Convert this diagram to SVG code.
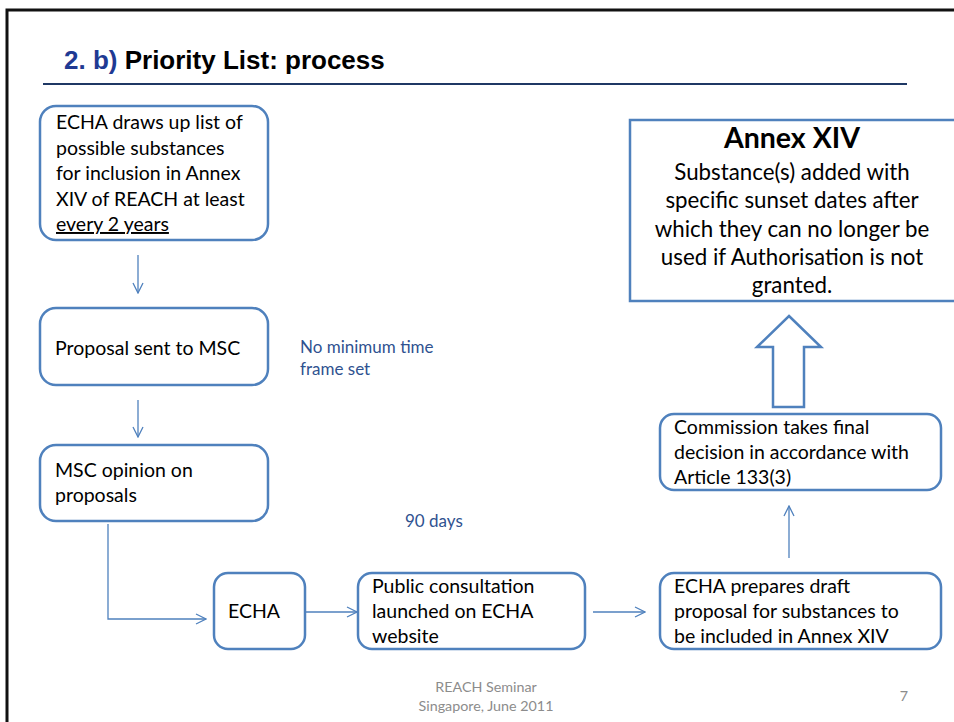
<svg xmlns="http://www.w3.org/2000/svg" width="954" height="722" viewBox="0 0 954 722">
<defs>
<style>
.box{fill:#fff;stroke:#4F81BD;stroke-width:2.5}
.t{font-family:Lato,"Open Sans",sans-serif;font-size:19.5px;fill:#000}
.lbl{font-family:Lato,"Open Sans",sans-serif;font-size:17px;fill:#2F5290}
.foot{font-family:Lato,"Open Sans",sans-serif;font-size:14.3px;fill:#8C8C8C}
.con{fill:none;stroke:#4F81BD;stroke-width:1.3}
</style>
<marker id="arr" viewBox="0 0 12 12" refX="11" refY="6" markerWidth="12" markerHeight="12" markerUnits="userSpaceOnUse" orient="auto">
<path d="M1,1 L11,6 L1,11" fill="none" stroke="#4F81BD" stroke-width="1.3"/>
</marker>
</defs>
<rect width="954" height="722" fill="#fff"/>
<path d="M7,722 V10 H954" fill="none" stroke="#111" stroke-width="3"/>
<g id="title">
<text x="64" y="69" font-family="'Liberation Sans',Arial,sans-serif" font-weight="bold" font-size="26px"><tspan fill="#1F3A93">2. b)</tspan><tspan fill="#000"> Priority List: process</tspan></text>
<line x1="43" y1="84" x2="907" y2="84" stroke="#1F3864" stroke-width="2"/>
</g>
<g id="n1">
<rect class="box" x="40" y="106" width="228" height="134" rx="16"/>
<text class="t"><tspan x="56" y="129">ECHA draws up list of</tspan><tspan x="56" y="155">possible substances</tspan><tspan x="56" y="180">for inclusion in Annex</tspan><tspan x="56" y="206">XIV of REACH at least</tspan><tspan x="56" y="231" text-decoration="underline">every 2 years</tspan></text>
</g>
<g id="n2">
<rect class="box" x="40" y="308" width="228" height="77" rx="16"/>
<text class="t" x="55" y="355">Proposal sent to MSC</text>
</g>
<g id="n3">
<rect class="box" x="40" y="445" width="228" height="76" rx="16"/>
<text class="t"><tspan x="55" y="477">MSC opinion on</tspan><tspan x="55" y="502">proposals</tspan></text>
</g>
<g id="n4">
<rect class="box" x="214" y="573" width="91" height="76" rx="14"/>
<text class="t" x="228" y="618">ECHA</text>
</g>
<g id="n5">
<rect class="box" x="358" y="573" width="227" height="76" rx="14"/>
<text class="t"><tspan x="372" y="593">Public consultation</tspan><tspan x="372" y="618">launched on ECHA</tspan><tspan x="372" y="643">website</tspan></text>
</g>
<g id="n6">
<rect class="box" x="660" y="573" width="281" height="76" rx="14"/>
<text class="t"><tspan x="674" y="593">ECHA prepares draft</tspan><tspan x="674" y="618">proposal for substances to</tspan><tspan x="674" y="643">be included in Annex XIV</tspan></text>
</g>
<g id="n7">
<rect class="box" x="660" y="414" width="281" height="76" rx="14"/>
<text class="t"><tspan x="674" y="434">Commission takes final</tspan><tspan x="674" y="459">decision in accordance with</tspan><tspan x="674" y="484">Article 133(3)</tspan></text>
</g>
<g id="n8">
<rect x="630" y="120" width="340" height="181" fill="#fff" stroke="#4F81BD" stroke-width="2.5"/>
<text x="792" y="148" text-anchor="middle" font-family="Lato,'Open Sans',sans-serif" font-weight="bold" font-size="28.5px">Annex XIV</text>
<text class="t" text-anchor="middle" style="font-size:22.3px"><tspan x="792" y="180">Substance(s) added with</tspan><tspan x="792" y="208">specific sunset dates after</tspan><tspan x="792" y="237">which they can no longer be</tspan><tspan x="792" y="265">used if Authorisation is not</tspan><tspan x="792" y="293">granted.</tspan></text>
</g>
<g id="connectors">
<line class="con" x1="138" y1="255" x2="138" y2="293" marker-end="url(#arr)"/>
<line class="con" x1="138" y1="400" x2="138" y2="437" marker-end="url(#arr)"/>
<polyline class="con" points="108,524 108,619 206,619" marker-end="url(#arr)"/>
<line class="con" x1="306" y1="612" x2="357" y2="612" marker-end="url(#arr)"/>
<line class="con" x1="593" y1="612" x2="645" y2="612" marker-end="url(#arr)"/>
<line class="con" x1="789" y1="558" x2="789" y2="506" marker-end="url(#arr)"/>
<path d="M789,316 L821,347 L804,347 L804,407 L773,407 L773,347 L757,347 Z" fill="#fff" stroke="#4F81BD" stroke-width="2.5" stroke-linejoin="miter"/>
</g>
<g id="labels">
<text class="lbl"><tspan x="300" y="353">No minimum time</tspan><tspan x="300" y="375">frame set</tspan></text>
<text class="lbl" x="405" y="527">90 days</text>
</g>
<g id="footer">
<text class="foot" text-anchor="middle"><tspan x="486" y="692">REACH Seminar</tspan><tspan x="486" y="711">Singapore, June 2011</tspan></text>
<text class="foot" x="904" y="701" text-anchor="middle">7</text>
</g>
</svg>
